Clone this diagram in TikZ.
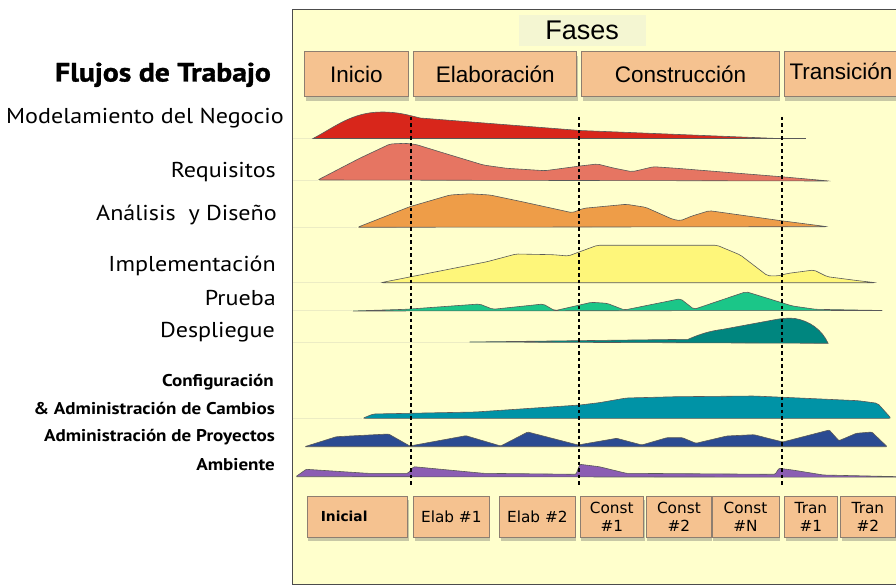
\documentclass[tikz,border=0pt]{standalone}
\usepackage{fontspec}
\setmainfont{PT Sans}
\newfontfamily\labf[FakeStretch=1.12]{PT Sans}
\newfontfamily\labbf[FakeStretch=1.12]{PT Sans Bold}
\newfontfamily\flujf[FakeStretch=1.12, FakeBold=1.2]{PT Sans Bold}
\newfontfamily\arialf{Liberation Sans}
\newfontfamily\verd{DejaVu Sans}
\usetikzlibrary{shadows}
\definecolor{panelc}{HTML}{FFFFCC}
\definecolor{fasesc}{HTML}{F4F6D2}
\definecolor{phasec}{HTML}{F5C290}
\definecolor{phased}{HTML}{8E7E70}
\definecolor{cRed}{HTML}{D8261B}
\definecolor{cSal}{HTML}{E67562}
\definecolor{cOra}{HTML}{EE9D48}
\definecolor{cYel}{HTML}{FEF67A}
\definecolor{cGrn}{HTML}{1BC688}
\definecolor{cTea}{HTML}{00867F}
\definecolor{cCya}{HTML}{0093A6}
\definecolor{cNav}{HTML}{2B4B92}
\definecolor{cPur}{HTML}{8B5DB3}
\definecolor{faint}{HTML}{ECECC4}
\tikzset{
  phasebox/.style={draw=phased, fill=phasec, line width=0.8pt, inner sep=0pt,
    minimum height=45, font=\arialf\fontsize{22.5}{24}\selectfont,
    drop shadow={shadow xshift=1pt, shadow yshift=-4pt, opacity=0.3, fill=black!70}},
  iterbox/.style={draw=phased, fill=phasec, line width=0.8pt, inner sep=0pt,
    minimum height=41.5, align=center, font=\verd\fontsize{15.3}{17.5}\selectfont,
    drop shadow={shadow xshift=1pt, shadow yshift=-4pt, opacity=0.3, fill=black!70}},
  flow/.style={draw=black!65, line width=0.6pt, rounded corners=2pt},
  bigl/.style={anchor=base east, inner sep=0pt, font=\labf\fontsize{21.5}{23}\selectfont},
  smalll/.style={anchor=base east, inner sep=0pt, font=\labbf\fontsize{17}{19}\selectfont},
  phaseline/.style={line width=2.3pt, dash pattern=on 3.5pt off 3pt},
  faintline/.style={draw=faint, line width=0.8pt}
}
\begin{document}
\begin{tikzpicture}[x=1pt,y=-1pt]
\useasboundingbox (0,0) rectangle (896,585);
\fill[white] (0,0) rectangle (896,585);
% panel
\draw[fill=panelc, draw=black!70, line width=1pt] (292,10) rectangle (900,584);
\node[fill=fasesc, minimum width=127, minimum height=31, inner sep=0pt,
  font=\arialf\fontsize{27}{29}\selectfont] (fases) at (582.2,30.5) {Fases};
% phase boxes
\node[phasebox, minimum width=103.2] (inicio) at (356.3,74.2) {Inicio};
\node[phasebox, minimum width=163.1] (elab) at (495.2,74.2) {Elaboración};
\node[phasebox, minimum width=197.2] (const) at (680.4,74.2) {Construcción};
\node[phasebox, minimum width=114] (tran) at (841,74.2) {\raisebox{6pt}{Transición}};

% left labels
\node[anchor=base east, inner sep=0pt, font=\flujf\fontsize{26.5}{28}\selectfont] (flujos) at (271,81.5) {Flujos de Trabajo};
\node[bigl] (lmod) at (284,124) {Modelamiento del Negocio};
\node[bigl] (lreq) at (276,178) {Requisitos};
\node[bigl] (lana) at (277,221) {Análisis\ \ y Diseño};
\node[bigl] (limp) at (276,271) {Implementación};
\node[bigl] (lpru) at (276,305.5) {Prueba};
\node[bigl] (ldes) at (275,337.5) {Despliegue};
\node[smalll] (lconf) at (274,386.5) {Configuración};
\node[smalll] (lcamb) at (275,414) {\& Administración de Cambios};
\node[smalll] (lproy) at (275,441.5) {Administración de Proyectos};
\node[smalll] (lamb) at (275,470.5) {Ambiente};

% faint baselines
\draw[faintline] (293,138.5) -- (313,138.5);
\draw[faintline] (293,180) -- (318,180);
\draw[faintline] (293,227) -- (357,227);
\draw[faintline] (293,282.7) -- (381,282.7);
\draw[faintline] (293,310.5) -- (352,310.5);
\draw[faintline] (293,342.5) -- (470,342.5);
\draw[faintline] (293,418.3) -- (362,418.3);

% Modelamiento del Negocio
\filldraw[draw=black!65, line width=0.6pt, fill=cRed]
  (313,138.5) .. controls (335,127) and (352,112) .. (382,112)
  .. controls (398,112) and (408,115) .. (420,118) -- (580,130.5) -- (778,138.5) -- cycle;
\draw[black!65, line width=0.6pt] (778,138.5) -- (806,138.5);
% Requisitos
\filldraw[flow, fill=cSal] (317.8,180) -- (359.6,158.3) -- (390,144) -- (405,143.3) -- (416,144.5)
  -- (444.6,153.3) -- (483.3,165) -- (506.5,168.3) -- (545,170.7) -- (580,166) -- (597.3,164)
  -- (614.7,168.3) -- (632,171.7) -- (639.8,170) -- (653.4,166.7) -- (676.5,168.3)
  -- (781,176.7) -- (829.2,181) -- cycle;
% Analisis y Diseno
\filldraw[flow, fill=cOra] (357.6,227.3) -- (409.8,206.7) -- (450,195) -- (470,193.8) -- (490,195)
  -- (522,201.7) -- (572.2,212.7) -- (583.8,208.3) -- (626.3,204.3) -- (645.6,207.3)
  -- (672.7,219.3) -- (680.4,220.7) -- (692,216) -- (709.4,210.7) -- (781,220.7)
  -- (827.3,226.7) -- cycle;
% Implementacion
\filldraw[flow, fill=cYel] (380.8,282.7) -- (487.1,261.7) -- (516.1,254) -- (552.9,254.7)
  -- (568.3,256) -- (579.9,251.7) -- (597.3,245.3) -- (717.1,245.3) -- (740.3,255)
  -- (767.4,275.7) -- (777,276) -- (788.7,273.3) -- (813.8,270) -- (827.3,276.7)
  -- (858.2,280.7) -- (875.6,282.7) -- cycle;
% Prueba
\filldraw[flow, fill=cGrn] (351.8,311) -- (406,309.3) -- (479.4,304) -- (493,309.3)
  -- (543.2,304) -- (554.8,310.7) -- (591.5,302.3) -- (607,303.3) -- (624.4,310)
  -- (680.4,298.7) -- (694,309.3) -- (746.1,291.7) -- (792.5,306) -- (815.7,309.3)
  -- (883.4,310.5) -- cycle;
% Despliegue
\filldraw[draw=black!65, line width=0.6pt, fill=cTea] (469.7,342) -- (688.1,339.3)
  .. controls (700,334) and (710,331) .. (722.9,329.3) -- (777,319.3)
  .. controls (785,318) and (790,318) .. (795,318.5)
  .. controls (810,321) and (822,330) .. (828.1,343.3) -- cycle;
% Configuracion y Administracion de Cambios
\filldraw[flow, fill=cCya] (362.7,418.3) -- (373.1,414) -- (475.5,412) -- (579.9,405)
  -- (599.2,402.7) -- (626.3,398) -- (676.5,396.7) -- (753.9,396) -- (792.5,397.7)
  -- (858.2,400.7) -- (877.6,403.3) -- (891.1,418.3) -- cycle;
% Administracion de Proyectos
\filldraw[flow, rounded corners=1pt, fill=cNav] (304.7,446.7) -- (336.4,436.7) -- (388.6,434)
  -- (409.8,446) -- (465.9,435.7) -- (500.7,446) -- (527.7,432) -- (578,445)
  -- (616.6,438.3) -- (641.8,445) -- (666.9,437.7) -- (682.4,437.7) -- (695.9,443.3)
  -- (726.8,436) -- (753.9,434.7) -- (782.8,442) -- (829.2,430) -- (838.9,440.7)
  -- (856.3,433.3) -- (871.8,432) -- (887.2,446.7) -- cycle;
% Ambiente
\filldraw[flow, rounded corners=1pt, fill=cPur] (295.8,476.7) -- (306.2,469.3) -- (367.3,473.3)
  -- (407.9,473.3) -- (413.7,466.7) -- (483.3,473.3) -- (576,474.3) -- (579.9,464.3)
  -- (599.2,466.7) -- (626.3,473.3) -- (775.1,474.3) -- (779,468.3) -- (792.5,470)
  -- (823.4,475) -- (900,476.7) -- (900,477.2) -- cycle;

% phase boundaries
\coordinate (d1t) at (411,117);
\coordinate (d1b) at (411,485);
\coordinate (d2t) at (579,117);
\coordinate (d2b) at (579,485);
\coordinate (d3t) at (782,117);
\coordinate (d3b) at (782,485);
\draw[phaseline] (d1t) -- (d1b);
\draw[phaseline] (d2t) -- (d2b);
\draw[phaseline] (d3t) -- (d3b);

% iterations
\node[iterbox, text width=73.5, inner xsep=13.5, align=left,
  font=\verd\bfseries\fontsize{13.8}{16}\selectfont] (inicial) at (357.6,516.7) {Inicial};
\node[iterbox, minimum width=75.3] (e1) at (451.3,516.7) {Elab \#1};
\node[iterbox, minimum width=75.8] (e2) at (537.4,516.7) {Elab \#2};
\node[iterbox, minimum width=63.7] (c1) at (611.8,516.7) {Const\\\#1};
\node[iterbox, minimum width=64.9] (c2) at (678.9,516.7) {Const\\\#2};
\node[iterbox, minimum width=66.9] (cn) at (745.5,516.7) {Const\\\#N};
\node[iterbox, minimum width=52.2] (t1) at (810.9,516.7) {Tran\\\#1};
\node[iterbox, minimum width=54.2] (t2) at (867.9,516.7) {Tran\\\#2};
\end{tikzpicture}
\end{document}
